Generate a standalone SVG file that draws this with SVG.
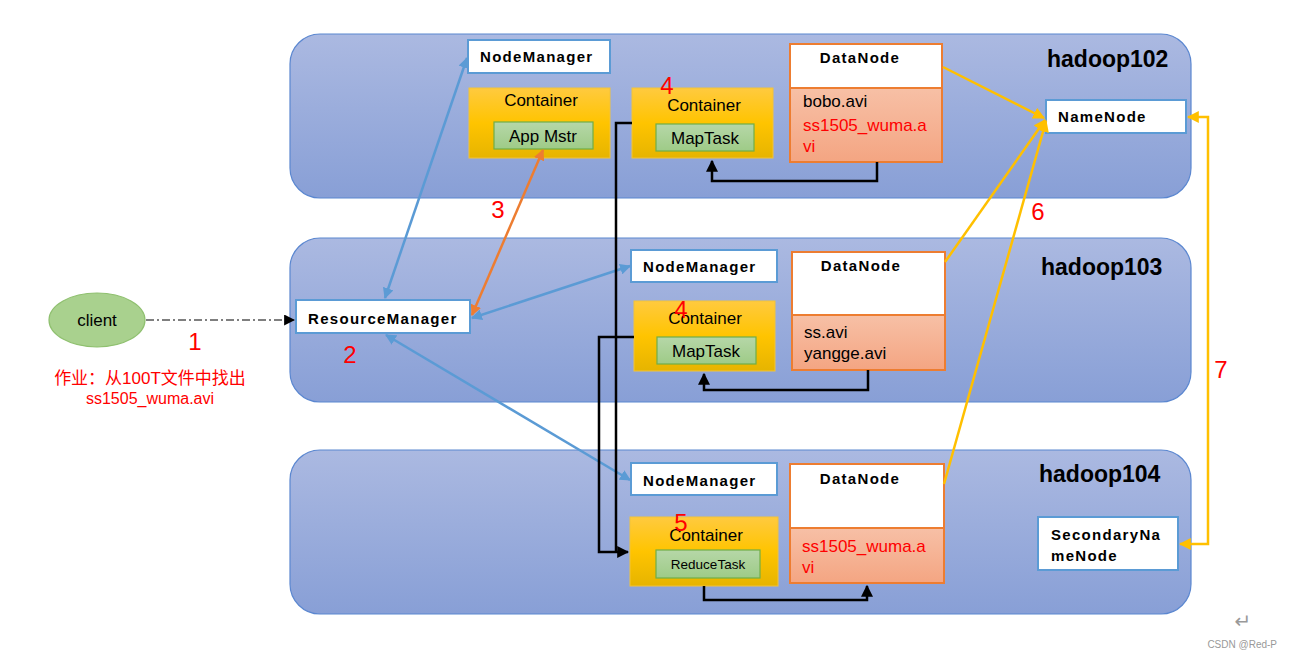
<svg xmlns="http://www.w3.org/2000/svg" width="1292" height="658" viewBox="0 0 1292 658">
<defs>
<linearGradient id="gPanel" x1="0" y1="0" x2="0" y2="1"><stop offset="0" stop-color="#abb9e1"/><stop offset="1" stop-color="#889fd6"/></linearGradient>
<linearGradient id="gGold" x1="0" y1="0" x2="0" y2="1"><stop offset="0" stop-color="#ffca3f"/><stop offset="0.5" stop-color="#ffc400"/><stop offset="1" stop-color="#e6b400"/></linearGradient>
<linearGradient id="gGreen" x1="0" y1="0" x2="0" y2="1"><stop offset="0" stop-color="#b6d7a8"/><stop offset="1" stop-color="#9ecb87"/></linearGradient>
<linearGradient id="gSalmon" x1="0" y1="0" x2="0" y2="1"><stop offset="0" stop-color="#f7c0a6"/><stop offset="1" stop-color="#f4a582"/></linearGradient>
<marker id="mBlue" viewBox="0 0 10 10" refX="9" refY="5" markerWidth="11" markerHeight="11" markerUnits="userSpaceOnUse" orient="auto-start-reverse"><path d="M0,0 L10,5 L0,10 z" fill="#5b9bd5"/></marker>
<marker id="mOrange" viewBox="0 0 10 10" refX="9" refY="5" markerWidth="11" markerHeight="11" markerUnits="userSpaceOnUse" orient="auto-start-reverse"><path d="M0,0 L10,5 L0,10 z" fill="#ed7d31"/></marker>
<marker id="mYellow" viewBox="0 0 10 10" refX="9" refY="5" markerWidth="12" markerHeight="12" markerUnits="userSpaceOnUse" orient="auto-start-reverse"><path d="M0,0 L10,5 L0,10 z" fill="#ffc000"/></marker>
<marker id="mBlack" viewBox="0 0 10 10" refX="9" refY="5" markerWidth="12" markerHeight="12" markerUnits="userSpaceOnUse" orient="auto-start-reverse"><path d="M0,0 L10,5 L0,10 z" fill="#000"/></marker>
<marker id="mGray" viewBox="0 0 10 10" refX="9" refY="5" markerWidth="11" markerHeight="11" markerUnits="userSpaceOnUse" orient="auto"><path d="M0,0 L10,5 L0,10 z" fill="#000"/></marker>
</defs>
<style>
.panel{fill:url(#gPanel);stroke:#5b87d0;stroke-width:1.2}
.wbox{fill:#fff;stroke:#5b9bd5;stroke-width:2}
.gold{fill:url(#gGold);stroke:#f2c33a;stroke-width:1}
.green{fill:url(#gGreen);stroke:#70ad47;stroke-width:1.2}
.dnTop{fill:#fff;stroke:#ed7d31;stroke-width:2}
.dnBot{fill:url(#gSalmon);stroke:#ed7d31;stroke-width:2}
.b{font-family:"Liberation Sans",Arial,sans-serif;font-weight:bold;font-size:15px;letter-spacing:1.3px;fill:#000}
.host{font-family:"Liberation Sans",Arial,sans-serif;font-weight:bold;font-size:23px;fill:#000}
.t{font-family:"Liberation Sans",Arial,sans-serif;font-size:17px;fill:#000}
.tr{font-family:"Liberation Sans",Arial,sans-serif;font-size:17px;fill:#ff0000}
.num{font-family:"Liberation Sans",Arial,sans-serif;font-size:24px;fill:#ff0000}
.c{text-anchor:middle}
.blk{fill:none;stroke:#000;stroke-width:2.5}
.blue{fill:none;stroke:#5b9bd5;stroke-width:2.5}
.yel{fill:none;stroke:#ffc000;stroke-width:2.5}
</style>

<g id="hadoop102">
<rect class="panel" x="290" y="34" width="901" height="164" rx="30"/>
<text class="host" x="1047" y="67">hadoop102</text>
</g>
<g id="hadoop103">
<rect class="panel" x="290" y="238" width="901" height="164" rx="30"/>
<text class="host" x="1041" y="275">hadoop103</text>
</g>
<g id="hadoop104">
<rect class="panel" x="290" y="450" width="901" height="164" rx="30"/>
<text class="host" x="1039" y="482">hadoop104</text>
</g>

<g id="nm102"><rect class="wbox" x="468" y="40" width="142" height="33"/><text class="b" x="480" y="62">NodeManager</text></g>
<g id="container-appmstr"><rect class="gold" x="469" y="88" width="141" height="70"/><text class="t c" x="541" y="106">Container</text>
<rect class="green" x="494" y="122" width="99" height="27"/><text class="t c" x="543" y="142">App Mstr</text></g>
<g id="container-map102"><rect class="gold" x="632" y="88" width="141" height="70"/><text class="t c" x="704" y="111">Container</text>
<rect class="green" x="656" y="124" width="98" height="27"/><text class="t c" x="705" y="144">MapTask</text></g>
<g id="dn102"><rect class="dnTop" x="790" y="44" width="152" height="44"/><rect class="dnBot" x="790" y="88" width="152" height="74"/>
<text class="b c" x="860" y="63">DataNode</text>
<text class="t" x="803" y="107">bobo.avi</text><text class="tr" x="803" y="131">ss1505_wuma.a</text><text class="tr" x="803" y="152">vi</text></g>
<g id="namenode"><rect class="wbox" x="1046" y="100" width="140" height="33"/><text class="b" x="1058" y="122">NameNode</text></g>

<g id="nm103"><rect class="wbox" x="631" y="250" width="146" height="32"/><text class="b" x="643" y="272">NodeManager</text></g>
<g id="container-map103"><rect class="gold" x="634" y="301" width="141" height="70"/><text class="t c" x="705" y="324">Container</text>
<rect class="green" x="657" y="337" width="99" height="27"/><text class="t c" x="706" y="357">MapTask</text></g>
<g id="dn103"><rect class="dnTop" x="792" y="252" width="153" height="63"/><rect class="dnBot" x="792" y="315" width="153" height="55"/>
<text class="b c" x="861" y="271">DataNode</text>
<text class="t" x="804" y="338">ss.avi</text><text class="t" x="804" y="359">yangge.avi</text></g>
<g id="rm"><rect class="wbox" x="296" y="300" width="174" height="33"/><text class="b" x="308" y="324">ResourceManager</text></g>

<g id="nm104"><rect class="wbox" x="631" y="463" width="146" height="32"/><text class="b" x="643" y="486">NodeManager</text></g>
<g id="container-reduce"><rect class="gold" x="630" y="517" width="148" height="69"/><text class="t c" x="706" y="541">Container</text>
<rect class="green" x="656" y="550" width="104" height="28"/><text class="t c" x="708" y="569" style="font-size:13.5px">ReduceTask</text></g>
<g id="dn104"><rect class="dnTop" x="790" y="464" width="154" height="64"/><rect class="dnBot" x="790" y="528" width="154" height="55"/>
<text class="b c" x="860" y="484">DataNode</text>
<text class="tr" x="802" y="552">ss1505_wuma.a</text><text class="tr" x="802" y="573">vi</text></g>
<g id="snn"><rect class="wbox" x="1038" y="517" width="140" height="53"/><text class="b" x="1051" y="540">SecondaryNa</text><text class="b" x="1051" y="561">meNode</text></g>

<g id="client"><ellipse cx="97" cy="320" rx="48" ry="27" fill="#a9d18e" stroke="#8fc06f" stroke-width="1.2"/><text class="t c" x="97" y="326">client</text></g>
<g id="job-note"><text class="tr c" x="150" y="384" style="font-family:'Liberation Sans','Noto Sans CJK SC',sans-serif">作业：从100T文件中找出</text><text class="tr c" x="150" y="404" style="font-size:16px">ss1505_wuma.avi</text></g>

<g id="connectors">
<line x1="146" y1="320" x2="294" y2="320" stroke="#555" stroke-width="1.5" stroke-dasharray="8,3,2,3" marker-end="url(#mGray)"/>
<line class="blue" x1="385" y1="298" x2="467" y2="58" marker-start="url(#mBlue)" marker-end="url(#mBlue)"/>
<line class="blue" x1="472" y1="318" x2="630" y2="266" marker-start="url(#mBlue)" marker-end="url(#mBlue)"/>
<line class="blue" x1="386" y1="335" x2="630" y2="480" marker-start="url(#mBlue)" marker-end="url(#mBlue)"/>
<line x1="472" y1="315" x2="543" y2="150" fill="none" stroke="#ed7d31" stroke-width="2.5" marker-start="url(#mOrange)" marker-end="url(#mOrange)"/>
<polyline class="blk" points="877,162 877,181 712,181 712,161" marker-end="url(#mBlack)"/>
<polyline class="blk" points="868,370 868,390 704,390 704,374" marker-end="url(#mBlack)"/>
<polyline class="blk" points="704,586 704,600 867,600 867,586" marker-end="url(#mBlack)"/>
<polyline class="blk" points="632,123 616,123 616,552"/>
<polyline class="blk" points="634,337 599,337 599,552 628,552" marker-end="url(#mBlack)"/>
<line class="yel" x1="943" y1="67" x2="1044" y2="118" marker-end="url(#mYellow)"/>
<line class="yel" x1="945" y1="262" x2="1045" y2="120" marker-end="url(#mYellow)"/>
<line class="yel" x1="944" y1="484" x2="1046" y2="121" marker-end="url(#mYellow)"/>
<polyline class="yel" points="1188,117 1208,117 1208,544 1180,544" marker-start="url(#mYellow)" marker-end="url(#mYellow)"/>
</g>

<g id="labels">
<text class="num c" x="195" y="350">1</text>
<text class="num c" x="350" y="363">2</text>
<text class="num c" x="498" y="218">3</text>
<text class="num c" x="667" y="94">4</text>
<text class="num c" x="681" y="318">4</text>
<text class="num c" x="681" y="531">5</text>
<text class="num c" x="1038" y="220">6</text>
<text class="num c" x="1221" y="378">7</text>
</g>

<g id="watermark">
<text x="1243" y="628" class="c" style="font-family:'DejaVu Sans',sans-serif;font-size:20px;fill:#999">↵</text>
<text x="1277" y="648" style="font-family:'Liberation Sans',Arial,sans-serif;font-size:10px;fill:#999;text-anchor:end">CSDN @Red-P</text>
</g>
</svg>
